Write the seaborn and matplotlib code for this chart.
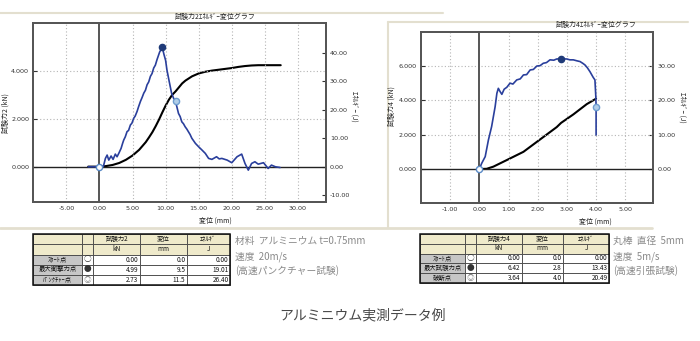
import matplotlib
matplotlib.use("Agg")
import matplotlib.pyplot as plt
import seaborn as sns
from matplotlib.patches import Rectangle
from matplotlib.lines import Line2D

# ---------------- data ----------------
# Aluminium sheet t=0.75mm, high speed puncture test (20 m/s)
punct_disp = [-1.7, 0.0, 0.6, 0.9, 1.16, 1.41, 1.76, 2.06, 2.4, 2.66, 2.92, 3.27, 3.5, 3.67,
              3.9, 4.17, 4.4, 4.68, 4.9, 5.18, 5.4, 5.68, 5.9, 6.19, 6.45, 6.7, 6.95, 7.2,
              7.45, 7.7, 7.95, 8.2, 8.45, 8.7, 9.1, 9.5, 9.75, 10.0, 10.2, 10.55, 10.9,
              11.2, 11.5, 11.7, 11.95, 12.2, 12.45, 12.7, 12.96, 13.2, 13.46, 13.7, 13.97,
              14.2, 14.5, 14.98, 15.5, 16.0, 16.5, 17.0, 17.7, 18.1, 18.5, 19.3, 20.0,
              20.8, 21.5, 22.0, 22.5, 23.0, 23.5, 24.0, 24.8, 25.5, 26.0, 26.6, 27.3]
punct_force = [0.0, 0.0, 0.02, 0.35, 0.49, 0.28, 0.45, 0.31, 0.53, 0.42, 0.56, 0.77, 0.98, 1.12,
               1.25, 1.47, 1.52, 1.75, 1.82, 2.03, 2.12, 2.31, 2.5, 2.73, 2.9, 3.08, 3.2, 3.43,
               3.55, 3.78, 3.9, 4.13, 4.25, 4.48, 4.8, 4.99, 4.7, 4.45, 4.05, 3.56, 3.08,
               2.87, 2.73, 2.51, 2.23, 2.1, 1.88, 1.8, 1.67, 1.58, 1.46, 1.35, 1.19,
               1.1, 0.98, 0.84, 0.70, 0.56, 0.35, 0.31, 0.42, 0.33, 0.35, 0.28, 0.17,
               0.42, 0.53, 0.14, -0.14, 0.14, 0.21, 0.11, 0.17, -0.07, 0.07, 0.0, -0.03]
punct_en_disp = [-1.7, 0.0, 1.0, 2.0, 3.0, 4.0, 5.0, 6.0, 7.0, 7.5, 8.0, 8.5, 9.0, 9.5, 10.0,
                 10.5, 11.0, 11.5, 12.0, 12.5, 13.0, 14.0, 15.0, 16.0, 17.0, 18.0, 19.0,
                 20.0, 21.0, 22.0, 23.0, 24.0, 25.0, 26.0, 27.4]
punct_energy = [0.0, 0.0, 0.2, 0.6, 1.3, 2.4, 3.9, 5.9, 8.6, 10.3, 12.1, 14.2, 16.5, 19.01, 21.4,
                23.5, 25.2, 26.40, 27.8, 29.2, 30.2, 31.7, 32.7, 33.3, 33.7, 34.0, 34.3,
                34.6, 35.0, 35.3, 35.5, 35.6, 35.6, 35.6, 35.6]

# Aluminium round bar d=5mm, high speed tensile test (5 m/s)
tens_disp = [0.0, 0.08, 0.2, 0.31, 0.42, 0.54, 0.6, 0.65, 0.71, 0.77, 0.85, 0.94, 1.05, 1.15,
             1.28, 1.4, 1.51, 1.62, 1.74, 1.85, 1.97, 2.08, 2.19, 2.3, 2.42, 2.55, 2.65, 2.8,
             3.0, 3.1, 3.22, 3.35, 3.45, 3.55, 3.62, 3.7, 3.79, 3.9, 3.96, 3.99, 4.0, 4.0]
tens_force = [0.0, 0.33, 0.72, 1.69, 2.47, 3.63, 4.41, 4.7, 4.51, 4.35, 4.65, 4.76, 5.0, 4.95,
              5.19, 5.25, 5.48, 5.5, 5.77, 5.8, 6.0, 6.02, 6.16, 6.2, 6.36, 6.34, 6.41, 6.42,
              6.41, 6.36, 6.36, 6.3, 6.26, 6.15, 6.06, 5.9, 5.67, 5.34, 5.19, 4.22, 3.64, 1.98]
tens_en_disp = [0.0, 0.25, 0.48, 0.94, 1.51, 2.08, 2.65, 2.8, 3.22, 3.68, 4.0]
tens_energy = [0.0, 0.05, 0.68, 2.6, 5.0, 8.6, 12.2, 13.43, 15.9, 18.9, 20.49]

# summary tables: start / max force / punch (break) points
punct_rows = ["ｽﾀｰﾄ点", "最大衝撃力点", "ﾊﾟﾝｸﾁｬｰ点"]
punct_pt_force = [0.00, 4.99, 2.73]
punct_pt_disp = [0.0, 9.5, 11.5]
punct_pt_energy = [0.00, 19.01, 26.40]

tens_rows = ["ｽﾀｰﾄ点", "最大試験力点", "破断点"]
tens_pt_force = [0.00, 6.42, 3.64]
tens_pt_disp = [0.0, 2.8, 4.0]
tens_pt_energy = [0.00, 13.43, 20.49]

# ---------------- style ----------------
sns.set_theme(style="white")
plt.rcParams['font.family'] = ['DejaVu Sans', 'Noto Sans CJK JP']
JP = ['Noto Sans CJK JP', 'DejaVu Sans']
BLUE = "#2a3f9c"
FRAME = "#e3dfcf"

W, H = 700, 341
fig = plt.figure(figsize=(7.0, 3.41), dpi=100)
fig.patch.set_facecolor("white")


def fx(x):
    return x / W


def fy(y):
    return 1 - y / H


def axes_px(x0, y0, x1, y1):
    return fig.add_axes([fx(x0), fy(y1), fx(x1) - fx(x0), fy(y0) - fy(y1)])


def hline_px(y, x0, x1, color=FRAME, lw=1.5):
    fig.add_artist(Line2D([fx(x0), fx(x1)], [fy(y), fy(y)], transform=fig.transFigure,
                          color=color, lw=lw))


def vline_px(x, y0, y1, color=FRAME, lw=1.5):
    fig.add_artist(Line2D([fx(x), fx(x)], [fy(y0), fy(y1)], transform=fig.transFigure,
                          color=color, lw=lw))


def text_px(x, y, s, **kw):
    fig.text(fx(x), fy(y), s, **kw)


# page frames
hline_px(13, 0, 443)
hline_px(21.5, 388, 688)
vline_px(388, 21.5, 228)
hline_px(228, 0, 652, lw=2.0)


def draw_panel(box, fxs, fys, exs, eys, pxs, pys, xlim, ylim, rlim,
               xticks, yticks, rticks):
    ax = axes_px(*box)
    tw = ax.twinx()
    sns.lineplot(x=exs, y=eys, ax=tw, color="black", lw=1.5, estimator=None, sort=False)
    sns.lineplot(x=fxs, y=fys, ax=ax, color=BLUE, lw=1.2, estimator=None, sort=False)
    ax.set_zorder(tw.get_zorder() + 1)
    ax.patch.set_visible(False)

    ax.set_xlim(*xlim)
    ax.set_ylim(*ylim)
    tw.set_ylim(*rlim)
    ax.set_xticks(xticks)
    ax.set_xticklabels([f"{v:.2f}" for v in xticks])
    ax.set_yticks(yticks)
    ax.set_yticklabels([f"{v:.3f}" for v in yticks])
    tw.set_yticks(rticks)
    tw.set_yticklabels([f"{v:.2f}" for v in rticks])
    for a in (ax, tw):
        a.tick_params(direction="in", length=3, width=0.8, colors="#333",
                      labelsize=4.6, pad=3)
        a.set_xlabel("")
        a.set_ylabel("")
        for sp in a.spines.values():
            sp.set_color("#555")
            sp.set_linewidth(1.3)

    for v in xticks:
        if v != 0:
            ax.axvline(v, color="#b5b5b5", lw=0.8, ls=(0, (1, 2)), zorder=0)
    for v in yticks:
        if v != 0:
            ax.axhline(v, color="#b5b5b5", lw=0.8, ls=(0, (1, 2)), zorder=0)
    ax.axvline(0, color="#555", lw=1.4, zorder=1)
    ax.axhline(0, color="#222", lw=1.0, zorder=1)

    # start / max force / punch(break) markers
    sns.scatterplot(x=[pxs[0]], y=[pys[0]], ax=ax, s=20, color="white",
                    edgecolor="#5a8ac6", linewidth=1.0, zorder=5)
    sns.scatterplot(x=[pxs[1]], y=[pys[1]], ax=ax, s=20, color="#1f3a78",
                    edgecolor="#1f3a78", linewidth=1.0, zorder=5)
    sns.scatterplot(x=[pxs[2]], y=[pys[2]], ax=ax, s=20, color="#b0cde8",
                    edgecolor="#6d9ccf", linewidth=1.0, zorder=5)
    return ax, tw


draw_panel((33.3, 23.3, 325.7, 201.7), punct_disp, punct_force,
           punct_en_disp, punct_energy, punct_pt_disp, punct_pt_force,
           (-10, 34.2), (-1.46, 6.0), (-12.3, 50.3),
           [-5, 0, 5, 10, 15, 20, 25, 30], [0, 2, 4], [-10, 0, 10, 20, 30, 40])

draw_panel((421, 31.7, 653.3, 203.3), tens_disp, tens_force,
           tens_en_disp, tens_energy, tens_pt_disp, tens_pt_force,
           (-2, 5.96), (-2, 8), (-10, 40),
           [-1, 0, 1, 2, 3, 4, 5], [0, 2, 4, 6], [0, 10, 20, 30])

# titles and axis labels
lab = dict(family=JP, fontsize=5.0, color="#222")
text_px(215, 17, "試験力2ｴﾈﾙｷﾞｰ変位グラフ", ha="center", va="center", **lab)
text_px(596, 25, "試験力4ｴﾈﾙｷﾞｰ変位グラフ", ha="center", va="center", **lab)
text_px(215, 221, "変位 (mm)", ha="center", va="center", **lab)
text_px(595, 222, "変位 (mm)", ha="center", va="center", **lab)
text_px(6, 113, "試験力2 (kN)", ha="center", va="center", rotation=90, **lab)
text_px(354, 106, "ｴﾈﾙｷﾞｰ (J)", ha="center", va="center", rotation=270, **lab)
text_px(392, 106, "試験力4 (kN)", ha="center", va="center", rotation=90, **lab)
text_px(682, 107, "ｴﾈﾙｷﾞｰ (J)", ha="center", va="center", rotation=270, **lab)


def draw_table(cols, rows_y, force_name, labels, fvals, dvals, evals):
    heads = ["", "", force_name, "変位", "ｴﾈﾙｷﾞ"]
    units = ["", "", "kN", "mm", "J"]
    symbols = ["○", "●", "◎"]
    for r in range(5):
        for c in range(5):
            x0, x1 = cols[c], cols[c + 1]
            y0, y1 = rows_y[r], rows_y[r + 1]
            face = "white"
            if r < 2:
                face = "#efeacb"
            elif c == 0:
                face = "#c6c6c6"
            fig.add_artist(Rectangle((fx(x0), fy(y1)), fx(x1) - fx(x0), fy(y0) - fy(y1),
                                     transform=fig.transFigure, facecolor=face,
                                     edgecolor="#444", lw=0.6))
    fig.add_artist(Rectangle((fx(cols[0]), fy(rows_y[-1])), fx(cols[-1]) - fx(cols[0]),
                             fy(rows_y[0]) - fy(rows_y[-1]), transform=fig.transFigure,
                             facecolor="none", edgecolor="#111", lw=1.1))
    tk = dict(family=JP, fontsize=4.6, color="#111", va="center")
    for c in range(2, 5):
        xc = (cols[c] + cols[c + 1]) / 2
        text_px(xc, (rows_y[0] + rows_y[1]) / 2, heads[c], ha="center", **tk)
        text_px(xc, (rows_y[1] + rows_y[2]) / 2, units[c], ha="center", **tk)
    for i in range(3):
        yc = (rows_y[i + 2] + rows_y[i + 3]) / 2
        text_px((cols[0] + cols[1]) / 2, yc, labels[i], ha="center", **tk)
        text_px((cols[1] + cols[2]) / 2, yc, symbols[i], ha="center",
                **{**tk, "fontsize": 5.5, "color": "#333" if i < 2 else "#888"})
        text_px(cols[3] - 1.5, yc, f"{fvals[i]:.2f}", ha="right", **tk)
        text_px(cols[4] - 1.5, yc, f"{dvals[i]:.1f}", ha="right", **tk)
        text_px(cols[5] - 1.5, yc, f"{evals[i]:.2f}", ha="right", **tk)


draw_table([33.3, 81.7, 93.3, 140, 186.7, 230], [234.3, 244, 254.5, 264.5, 274.5, 285],
           "試験力2", punct_rows, punct_pt_force, punct_pt_disp, punct_pt_energy)
draw_table([420, 465, 476, 521.7, 563.3, 609], [234.3, 243.5, 253.5, 263, 273, 283.3],
           "試験力4", tens_rows, tens_pt_force, tens_pt_disp, tens_pt_energy)

note = dict(family=JP, fontsize=7, color="#8a8a8a", ha="left", va="center")
text_px(235, 241, "材料  アルミニウム t=0.75mm", **note)
text_px(235, 257, "速度  20m/s", **note)
text_px(235, 270.5, "(高速パンクチャー試験)", **note)
text_px(613, 241, "丸棒  直径  5mm", **note)
text_px(613, 257, "速度  5m/s", **note)
text_px(613, 270.5, "(高速引張試験)", **note)

text_px(363, 315, "アルミニウム実測データ例", family=JP, fontsize=10, color="#484848",
        ha="center", va="center")

fig.savefig("out.png", dpi=100, facecolor="white")
